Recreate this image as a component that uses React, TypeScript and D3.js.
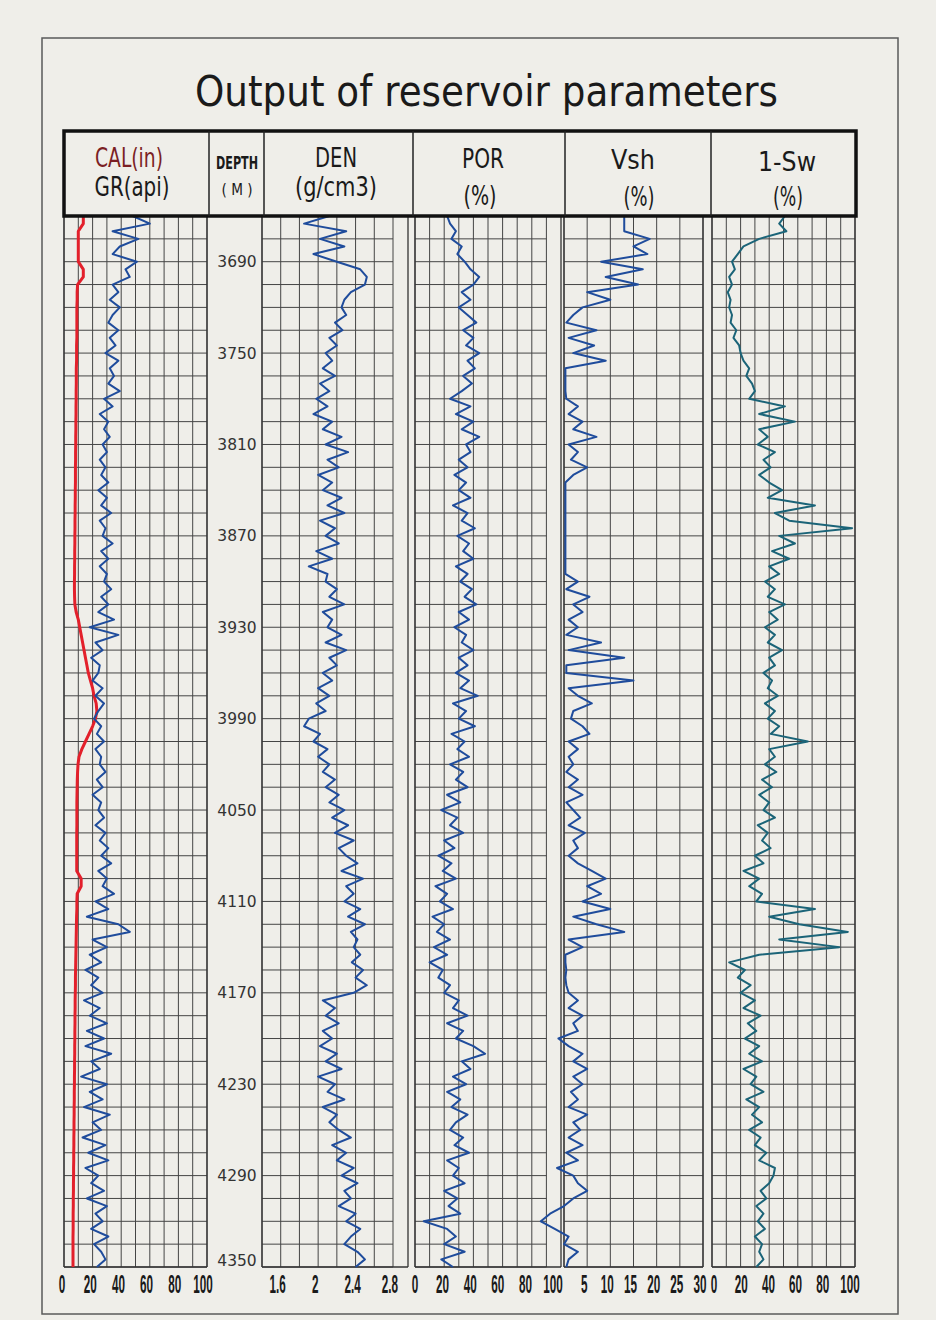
import React from "react";
import * as d3 from "d3";

const DEPTH_TOP = 3660;
const DEPTH_BOTTOM = 4350;
const SAMPLE_STEP = 5;
const GRID_STEP = 15;

const depthLabels = [3690, 3750, 3810, 3870, 3930, 3990, 4050, 4110, 4170, 4230, 4290, 4350];

// GR (api), 0-100
const grValues = [
  48, 60, 34, 52, 39, 34, 51, 43, 46, 34, 38, 32,
  39, 34, 31, 38, 32, 36, 29, 38, 32, 35, 31, 39,
  28, 34, 25, 31, 28, 32, 27, 30, 25, 29, 26, 31,
  24, 30, 26, 33, 25, 29, 27, 34, 26, 31, 25, 30,
  28, 33, 26, 31, 24, 35, 18, 38, 22, 27, 19, 25,
  24, 20, 27, 22, 28, 24, 21, 26, 23, 28, 22, 26,
  25, 29, 23, 27, 20, 26, 24, 28, 22, 29, 25, 31,
  26, 33, 24, 30, 27, 35, 22, 31, 16, 38, 46, 20,
  30, 18, 26, 15, 24, 19, 27, 14, 25, 18, 30, 16,
  28, 15, 33, 19, 25, 12, 30, 18, 27, 14, 32, 20,
  26, 13, 29, 17, 31, 15, 24, 19, 28, 16, 30, 22,
  27, 19, 31, 21, 26, 29, 23,
];

// CAL, plotted on the same 0-100 grid of track 1
const calValues = [
  13.5, 13.5, 10, 10, 10, 10, 10, 13.5, 13.5, 9.5, 9.2, 9.2,
  9, 9, 9, 9, 9, 8.8, 8.8, 8.8, 8.6, 8.6, 8.6, 8.5,
  8.5, 8.4, 8.4, 8.3, 8.3, 8.2, 8.2, 8.1, 8.1, 8.0, 8.0, 8.0,
  7.9, 7.9, 7.8, 7.8, 7.7, 7.7, 7.6, 7.6, 7.5, 7.5, 7.4, 7.4,
  7.3, 7.3, 7.4, 7.6, 8.5, 10, 11, 12, 13, 14, 15, 16,
  17, 18.5, 20, 21, 22.5, 23, 22, 20, 17.5, 15, 12.5, 10.5,
  9.8, 9.5, 9.3, 9.2, 9.1, 9, 9, 9, 9, 8.9, 8.9, 8.9,
  8.9, 8.9, 8.9, 12, 12, 9.2, 9, 9, 8.8, 8.7, 8.6, 8.5,
  8.4, 8.3, 8.2, 8.1, 8.0, 8.0, 7.9, 7.8, 7.8, 7.7, 7.7, 7.6,
  7.6, 7.5, 7.5, 7.4, 7.4, 7.3, 7.3, 7.2, 7.2, 7.1, 7.1, 7.0,
  7.0, 6.9, 6.9, 6.8, 6.8, 6.7, 6.7, 6.6, 6.6, 6.5, 6.5, 6.4,
  6.4, 6.4, 6.3, 6.3, 6.3, 6.3, 6.3,
];

// DEN (g/cm3)
const denValues = [
  2.12, 1.85, 2.30, 2.02, 2.28, 1.95, 2.20, 2.45, 2.52, 2.50, 2.35, 2.28,
  2.25, 2.30, 2.18, 2.26, 2.12, 2.20, 2.08, 2.15, 2.05, 2.18, 2.02, 2.12,
  1.98, 2.10, 1.95, 2.15, 2.05, 2.25, 2.08, 2.32, 2.10, 2.22, 2.00, 2.15,
  2.05, 2.25, 2.10, 2.28, 2.02, 2.18, 2.08, 2.22, 1.98, 2.15, 1.90, 2.10,
  2.08, 2.20, 2.12, 2.28, 2.05, 2.15, 2.10, 2.25, 2.08, 2.30, 2.12, 2.20,
  2.05, 2.15, 2.00, 2.12, 1.98, 2.08, 1.90, 1.85, 2.02, 1.95, 2.10, 2.00,
  2.12, 2.05, 2.18, 2.08, 2.22, 2.12, 2.28, 2.15, 2.32, 2.18, 2.38, 2.22,
  2.30, 2.42, 2.25, 2.48, 2.30, 2.38, 2.28, 2.45, 2.32, 2.50, 2.35, 2.42,
  2.38, 2.45, 2.36, 2.48, 2.40, 2.52, 2.38, 2.05, 2.18, 2.08, 2.22, 2.05,
  2.15, 2.02, 2.20, 2.08, 2.25, 2.00, 2.18, 2.10, 2.28, 2.05, 2.20, 2.12,
  2.22, 2.35, 2.15, 2.30, 2.20, 2.38, 2.25, 2.42, 2.28, 2.35, 2.22, 2.40,
  2.30, 2.45, 2.35, 2.28, 2.42, 2.50, 2.40,
];

// POR (%)
const porValues = [
  22, 24, 28, 25, 32, 29, 34, 38, 44, 40, 32, 38,
  30, 36, 42, 33, 40, 35, 44, 36, 41, 33, 39, 32,
  24, 38, 28, 40, 32, 44, 35, 38, 30, 36, 27, 35,
  30, 38, 26, 36, 32, 41, 29, 37, 33, 40, 28, 36,
  31, 39, 34, 42, 30, 37, 27, 35, 32, 40, 30, 36,
  28, 37, 31, 43, 26, 35, 30, 41, 25, 34, 29, 37,
  24, 33, 28, 36, 22, 31, 18, 29, 24, 33, 20, 27,
  16, 25, 19, 28, 14, 22, 17, 26, 12, 20, 15, 24,
  13, 22, 10, 19, 16, 24, 20, 30, 26, 36, 22, 33,
  28, 40, 48, 32, 38, 26, 35, 22, 31, 25, 36, 28,
  24, 33, 27, 37, 22, 30, 26, 34, 20, 29, 23, 31,
  6, 22, 28, 20, 34, 18, 26,
];

// Vsh (%)
const vshValues = [
  13, 13, 13, 18.5, 15, 18, 8, 17, 9, 16, 5, 10,
  4, 2, 0.5, 7, 1, 6.5, 2, 9, 0.3, 0.3, 0.3, 0.3,
  0.5, 3, 1, 4, 2, 7, 1, 3, 1.5, 5, 2, 0.3,
  0.3, 0.3, 0.3, 0.3, 0.3, 0.3, 0.3, 0.3, 0.3, 0.3, 0.3, 0.3,
  3, 0.5, 5.5, 2, 4, 1, 3, 0.5, 8, 1, 13, 0.5,
  0.5, 15, 1, 3, 6, 2, 1.5, 4, 5.5, 1, 3, 1,
  2, 0.5, 3, 1, 4, 0.5, 2, 3.5, 1, 4.5, 2, 3,
  1, 3, 6, 9, 5, 8, 4, 10, 2, 7, 13, 1,
  4, 0.3, 0.3, 0.5, 0.3, 0.5, 1, 3, 1, 4, 2, 3,
  -1.2, 1, 4, 2, 5, 2, 4, 1.5, 3, 1, 5, 2,
  3.5, 1, 4, 0.5, 3, -1.5, 2, 3, 5, 2, 0, -3,
  -5, -2, 1, 0, 3, 1, 0.5,
];

// 1-Sw (%)
const swValues = [
  51, 47, 52, 33, 22, 18, 14, 16, 12, 14, 11, 13,
  12, 14, 13, 17, 15, 19, 20, 22, 26, 24, 28, 30,
  26, 51, 33, 58, 33, 39, 32, 44, 36, 41, 33, 40,
  49, 39, 72, 44, 54, 98, 47, 58, 42, 54, 40, 47,
  37, 44, 39, 51, 40, 46, 37, 44, 39, 49, 40, 44,
  36, 42, 39, 46, 37, 44, 39, 47, 41, 67, 40, 44,
  37, 45, 35, 42, 33, 40, 36, 44, 32, 39, 35, 41,
  30, 36, 22, 33, 26, 35, 31, 72, 40, 61, 95, 47,
  89, 33, 12, 23, 18, 27, 20, 30, 22, 34, 25, 31,
  23, 33, 26, 35, 22, 31, 27, 36, 24, 33, 28, 35,
  26, 34, 30, 38, 33, 44, 43, 40, 34, 38, 31, 36,
  32, 37, 30, 35, 33, 36, 31,
];

// Bottom scale labels
const grTicks = [0, 20, 40, 60, 80, 100];
const denTicks = [1.6, 2, 2.4, 2.8];
const porTicks = [0, 20, 40, 60, 80, 100];
const vshTicks = [5, 10, 15, 20, 25, 30];
const swTicks = [0, 20, 40, 60, 80, 100];

const NARROW = "'Liberation Sans Narrow', 'DejaVu Sans Condensed', 'Liberation Sans', sans-serif";
const ROUND = "'DejaVu Sans', 'Noto Sans', sans-serif";

export default function App() {
  const W = 936, H = 1320;
  const TOP = 216, BOTTOM = 1267;
  const y = d3.scaleLinear().domain([DEPTH_TOP, DEPTH_BOTTOM]).range([TOP, BOTTOM]);

  const xGR = d3.scaleLinear().domain([0, 100]).range([64, 207]);
  const xDEN = d3.scaleLinear().domain([1.4, 2.8]).range([262, 393]);
  const xPOR = d3.scaleLinear().domain([0, 100]).range([415, 561]);
  const xVSH = d3.scaleLinear().domain([0, 30]).range([564, 703]);
  const xSW = d3.scaleLinear().domain([0, 100]).range([712, 855]);

  // label placement scales (the printed scale labels sit slightly inside the grid)
  const lGR = d3.scaleLinear().domain([0, 100]).range([62, 203]);
  const lDEN = d3.scaleLinear().domain([1.4, 2.8]).range([259, 390]);
  const lPOR = d3.scaleLinear().domain([0, 100]).range([415, 553]);
  const lVSH = d3.scaleLinear().domain([0, 30]).range([561, 700]);
  const lSW = d3.scaleLinear().domain([0, 100]).range([714, 850]);

  const depthAt = (i: number) => DEPTH_TOP + i * SAMPLE_STEP;
  const path = (x: d3.ScaleLinear<number, number>, vals: number[]) =>
    d3.line<number>().x((v) => x(v)).y((_, i) => y(depthAt(i)))(vals) || "";

  const hDepths = d3.range(DEPTH_TOP, DEPTH_BOTTOM + 1, GRID_STEP);

  const tracks = [
    { x: xGR, grid: d3.range(0, 101, 10), gridRight: xGR(100), boxRight: xGR(100) },
    { x: xDEN, grid: d3.range(0, 8).map((i) => 1.4 + 0.2 * i), gridRight: xDEN(2.8), boxRight: 408 },
    { x: xPOR, grid: d3.range(0, 91, 10), gridRight: xPOR(90), boxRight: xPOR(100) },
    { x: xVSH, grid: d3.range(0, 31, 5), gridRight: xVSH(30), boxRight: xVSH(30) },
    { x: xSW, grid: d3.range(0, 101, 10), gridRight: xSW(100), boxRight: xSW(100) },
  ];

  const gridColor = "#454545";
  const curveBlue = "#1f4c9c";
  const curveTeal = "#1b6478";

  const tickSets: { x: d3.ScaleLinear<number, number>; ticks: number[] }[] = [
    { x: lGR, ticks: grTicks },
    { x: lDEN, ticks: denTicks },
    { x: lPOR, ticks: porTicks },
    { x: lVSH, ticks: vshTicks },
    { x: lSW, ticks: swTicks },
  ];

  const headerTexts = [
    { t: "CAL(in)", x: 129, y: 167, w: 68, fs: 27, fill: "#7b1f24", bold: false },
    { t: "GR(api)", x: 132, y: 196, w: 75, fs: 27, fill: "#1a1a1a", bold: false },
    { t: "DEPTH", x: 237, y: 169, w: 42, fs: 18, fill: "#1a1a1a", bold: true },
    { t: "( M )", x: 237, y: 195, w: 31, fs: 16, fill: "#1a1a1a", bold: false },
    { t: "DEN", x: 336, y: 167, w: 42, fs: 27, fill: "#1a1a1a", bold: false },
    { t: "(g/cm3)", x: 336, y: 196, w: 82, fs: 27, fill: "#1a1a1a", bold: false },
    { t: "POR", x: 483, y: 168, w: 42, fs: 27, fill: "#1a1a1a", bold: false },
    { t: "(%)", x: 480, y: 205, w: 33, fs: 27, fill: "#1a1a1a", bold: false },
    { t: "Vsh", x: 633, y: 169, w: 44, fs: 27, fill: "#1a1a1a", bold: false },
    { t: "(%)", x: 639, y: 206, w: 31, fs: 27, fill: "#1a1a1a", bold: false },
    { t: "1-Sw", x: 787, y: 171, w: 58, fs: 27, fill: "#1a1a1a", bold: false },
    { t: "(%)", x: 788, y: 206, w: 30, fs: 27, fill: "#1a1a1a", bold: false },
  ];

  return (
    <svg
      width={W}
      height={H}
      viewBox={`0 0 ${W} ${H}`}
      style={{ position: "absolute", left: 0, top: 0, display: "block" }}
    >
      <rect x={0} y={0} width={W} height={H} fill="#efeee9" />
      <rect x={42} y={38} width={856} height={1276} fill="none" stroke="#5a5a5a" strokeWidth={1.5} />

      {/* title */}
      <text
        x={486.5}
        y={106}
        textAnchor="middle"
        fontFamily={ROUND}
        fontSize={42}
        textLength={583}
        lengthAdjust="spacingAndGlyphs"
        fill="#1a1a1a"
      >
        Output of reservoir  parameters
      </text>

      {/* track grids */}
      {tracks.map((tr, k) => {
        const x0 = tr.x.range()[0];
        return (
          <g key={`tr${k}`}>
            {hDepths.map((d) => (
              <line key={`h${d}`} x1={x0} x2={tr.gridRight} y1={y(d)} y2={y(d)} stroke={gridColor} strokeWidth={1} />
            ))}
            {tr.grid.map((v, j) => (
              <line key={`v${j}`} x1={tr.x(v)} x2={tr.x(v)} y1={TOP} y2={BOTTOM} stroke={gridColor} strokeWidth={1} />
            ))}
            <line x1={x0} x2={x0} y1={TOP} y2={BOTTOM} stroke="#333" strokeWidth={1.3} />
            <line x1={tr.boxRight} x2={tr.boxRight} y1={TOP} y2={BOTTOM} stroke="#333" strokeWidth={1.3} />
            <line x1={x0} x2={tr.boxRight} y1={BOTTOM} y2={BOTTOM} stroke="#333" strokeWidth={1.3} />
          </g>
        );
      })}

      {/* curves */}
      <path d={path(xGR, calValues)} fill="none" stroke="#e3202b" strokeWidth={3} strokeLinejoin="round" />
      <path d={path(xGR, grValues)} fill="none" stroke={curveBlue} strokeWidth={2} strokeLinejoin="round" />
      <path d={path(xDEN, denValues)} fill="none" stroke={curveBlue} strokeWidth={2} strokeLinejoin="round" />
      <path d={path(xPOR, porValues)} fill="none" stroke={curveBlue} strokeWidth={2} strokeLinejoin="round" />
      <path d={path(xVSH, vshValues)} fill="none" stroke={curveBlue} strokeWidth={2} strokeLinejoin="round" />
      <path d={path(xSW, swValues)} fill="none" stroke={curveTeal} strokeWidth={2} strokeLinejoin="round" />

      {/* header box */}
      <rect x={64} y={131} width={792} height={85} fill="#efeee9" stroke="#111" strokeWidth={3.5} />
      {[209, 264, 413, 565, 711].map((xx) => (
        <line key={`div${xx}`} x1={xx} x2={xx} y1={131} y2={216} stroke="#222" strokeWidth={1.5} />
      ))}
      {headerTexts.map((h, i) => (
        <text
          key={`ht${i}`}
          x={h.x}
          y={h.y}
          textAnchor="middle"
          fontFamily={NARROW}
          fontSize={h.fs}
          fontWeight={h.bold ? 700 : 400}
          textLength={h.w}
          lengthAdjust="spacingAndGlyphs"
          fill={h.fill}
        >
          {h.t}
        </text>
      ))}

      {/* depth labels */}
      {depthLabels.map((d) => (
        <text
          key={`dl${d}`}
          x={237}
          y={Math.min(y(d), 1260) + 5.5}
          textAnchor="middle"
          fontFamily={ROUND}
          fontSize={15.5}
          fill="#333"
        >
          {d}
        </text>
      ))}

      {/* bottom scale labels: tall condensed digits */}
      {tickSets.map((ts, k) =>
        ts.ticks.map((v) => (
          <text
            key={`tk${k}-${v}`}
            transform={`translate(${ts.x(v)},1293) scale(0.45,1)`}
            textAnchor="middle"
            fontFamily="'Liberation Sans', Arial, sans-serif"
            fontSize={26}
            fontWeight={700}
            fill="#1a1a1a"
          >
            {String(v)}
          </text>
        ))
      )}
    </svg>
  );
}
